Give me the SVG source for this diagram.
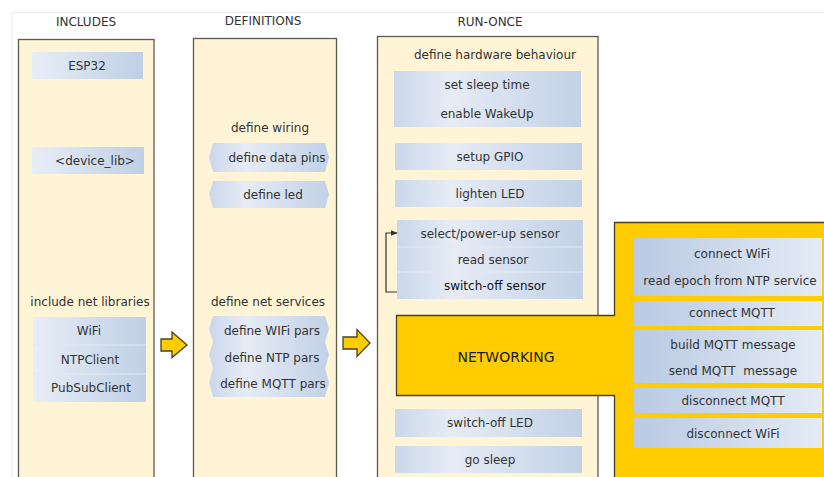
<svg xmlns="http://www.w3.org/2000/svg" width="824" height="477" viewBox="0 0 824 477">
<defs>
<linearGradient id="gL" x1="0" y1="0" x2="1" y2="0"><stop offset="0" stop-color="#e8eef7"/><stop offset="1" stop-color="#bfcfe5"/></linearGradient>
<linearGradient id="gM" x1="0" y1="0" x2="1" y2="0"><stop offset="0" stop-color="#cad7ea"/><stop offset="0.3" stop-color="#e6ecf5"/><stop offset="1" stop-color="#c2d1e7"/></linearGradient>
<linearGradient id="gR" x1="0" y1="0" x2="1" y2="0"><stop offset="0" stop-color="#b9cae3"/><stop offset="1" stop-color="#e4ebf5"/></linearGradient>
<marker id="ah" viewBox="0 0 10 10" refX="9" refY="5" markerWidth="7" markerHeight="7" orient="auto" markerUnits="userSpaceOnUse"><path d="M0,1 L10,5 L0,9 z" fill="#333"/></marker>
<style>
text{font-family:"DejaVu Sans","Liberation Sans",sans-serif;font-size:12px;fill:#333;text-anchor:middle}
.col{fill:#fff4d6;stroke:#5e5a52;stroke-width:1.3}
.div{stroke:#e3e9f2;stroke-width:1}
.yel{fill:#ffcc00;stroke:#4a4020;stroke-width:1.3}
</style>
</defs>
<rect width="824" height="477" fill="#fff"/>
<path d="M12,477 V12.5 H824" fill="none" stroke="#ececec" stroke-width="1"/>

<g id="includes">
<text x="86" y="26">INCLUDES</text>
<rect class="col" x="18.5" y="39.5" width="135.5" height="445"/>
<g id="esp32"><rect x="32" y="52" width="111" height="27" fill="url(#gL)"/><text x="87" y="70">ESP32</text></g>
<g id="device_lib"><rect x="32" y="147" width="112" height="27" fill="url(#gL)"/><text x="95" y="165">&lt;device_lib&gt;</text></g>
<g id="net_libraries">
<text x="90" y="306">include net libraries</text>
<rect x="33" y="317" width="113" height="85" fill="url(#gL)"/>
<line class="div" x1="33" y1="345" x2="146" y2="345"/>
<line class="div" x1="33" y1="374" x2="146" y2="374"/>
<text x="89" y="335">WiFi</text>
<text x="90" y="364">NTPClient</text>
<text x="91" y="392">PubSubClient</text>
</g>
</g>

<g id="definitions">
<text x="263" y="25">DEFINITIONS</text>
<rect class="col" x="193.5" y="38.5" width="143" height="446"/>
<text x="270" y="132">define wiring</text>
<g id="data_pins"><polygon points="213,143 325,143 329,157.5 325,172 213,172 209,157.5" fill="url(#gM)"/><text x="277" y="162">define data pins</text></g>
<g id="led"><polygon points="213,181 325,181 329,194.5 325,208 213,208 209,194.5" fill="url(#gM)"/><text x="273" y="199">define led</text></g>
<g id="net_services">
<text x="268" y="306">define net services</text>
<polygon points="213,316 325,316 329,329 325,342 213,342 209,329" fill="url(#gM)"/>
<polygon points="213,342 325,342 329,355 325,368 213,368 209,355" fill="url(#gM)"/>
<polygon points="213,368 325,368 329,382.5 325,397 213,397 209,382.5" fill="url(#gM)"/>
<text x="272" y="335">define WIFi pars</text>
<text x="272" y="362">define NTP pars</text>
<text x="273" y="388">define MQTT pars</text>
</g>
</g>

<g id="run_once">
<text x="490" y="26">RUN-ONCE</text>
<rect class="col" x="377.5" y="36.5" width="220.5" height="448"/>
<text x="495" y="59">define hardware behaviour</text>
<g id="hw"><rect x="394" y="71" width="187" height="56" fill="url(#gM)"/><text x="487" y="89">set sleep time</text><text x="487" y="118">enable WakeUp</text></g>
<g id="gpio"><rect x="395" y="143" width="187" height="27" fill="url(#gM)"/><text x="490" y="161">setup GPIO</text></g>
<g id="lighten"><rect x="395" y="180" width="187" height="27" fill="url(#gM)"/><text x="490" y="198">lighten LED</text></g>
<g id="sensor">
<rect x="397" y="220" width="186" height="79" fill="url(#gM)"/>
<line class="div" x1="397" y1="247" x2="583" y2="247"/>
<line class="div" x1="397" y1="272" x2="583" y2="272"/>
<text x="490" y="238">select/power-up sensor</text>
<text x="493" y="264">read sensor</text>
<text x="495" y="290" style="fill:#111">switch-off sensor</text>
</g>
<g id="switch_off_led"><rect x="395" y="409" width="187" height="28" fill="url(#gM)"/><text x="490" y="427">switch-off LED</text></g>
<g id="go_sleep"><rect x="395" y="446" width="187" height="27" fill="url(#gM)"/><text x="490" y="464">go sleep</text></g>
</g>

<g id="networking">
<path class="yel" d="M396.5,315.5 H614.5 V222.5 H830 V484 H614.5 V395.5 H396.5 Z"/>
<text x="506" y="362" style="fill:#1a1a1a;font-size:14px">NETWORKING</text>
<g id="wifi_ntp"><rect x="634" y="238" width="188" height="58" fill="url(#gR)"/><text x="732" y="258">connect WiFi</text><text x="730" y="285">read epoch from NTP service</text></g>
<g id="connect_mqtt"><rect x="634" y="301" width="188" height="25" fill="url(#gR)"/><text x="732" y="317">connect MQTT</text></g>
<g id="message"><rect x="634" y="330" width="188" height="53" fill="url(#gR)"/><text x="733" y="349">build MQTT message</text><text x="733" y="375" xml:space="preserve">send MQTT  message</text></g>
<g id="disconnect_mqtt"><rect x="634" y="388" width="188" height="25" fill="url(#gR)"/><text x="733" y="405">disconnect MQTT</text></g>
<g id="disconnect_wifi"><rect x="634" y="418" width="188" height="30" fill="url(#gR)"/><text x="733" y="438">disconnect WiFi</text></g>
</g>

<g id="connectors">
<path d="M397,292 H386 V233 H397" fill="none" stroke="#333" stroke-width="1.2" marker-end="url(#ah)"/>
<polygon class="yel" points="161,339 172,339 172,332 187,345 172,357.5 172,351 161,351"/>
<polygon class="yel" points="343,337 357,337 357,329.5 370,343 357,356.5 357,349 343,349"/>
</g>
</svg>
